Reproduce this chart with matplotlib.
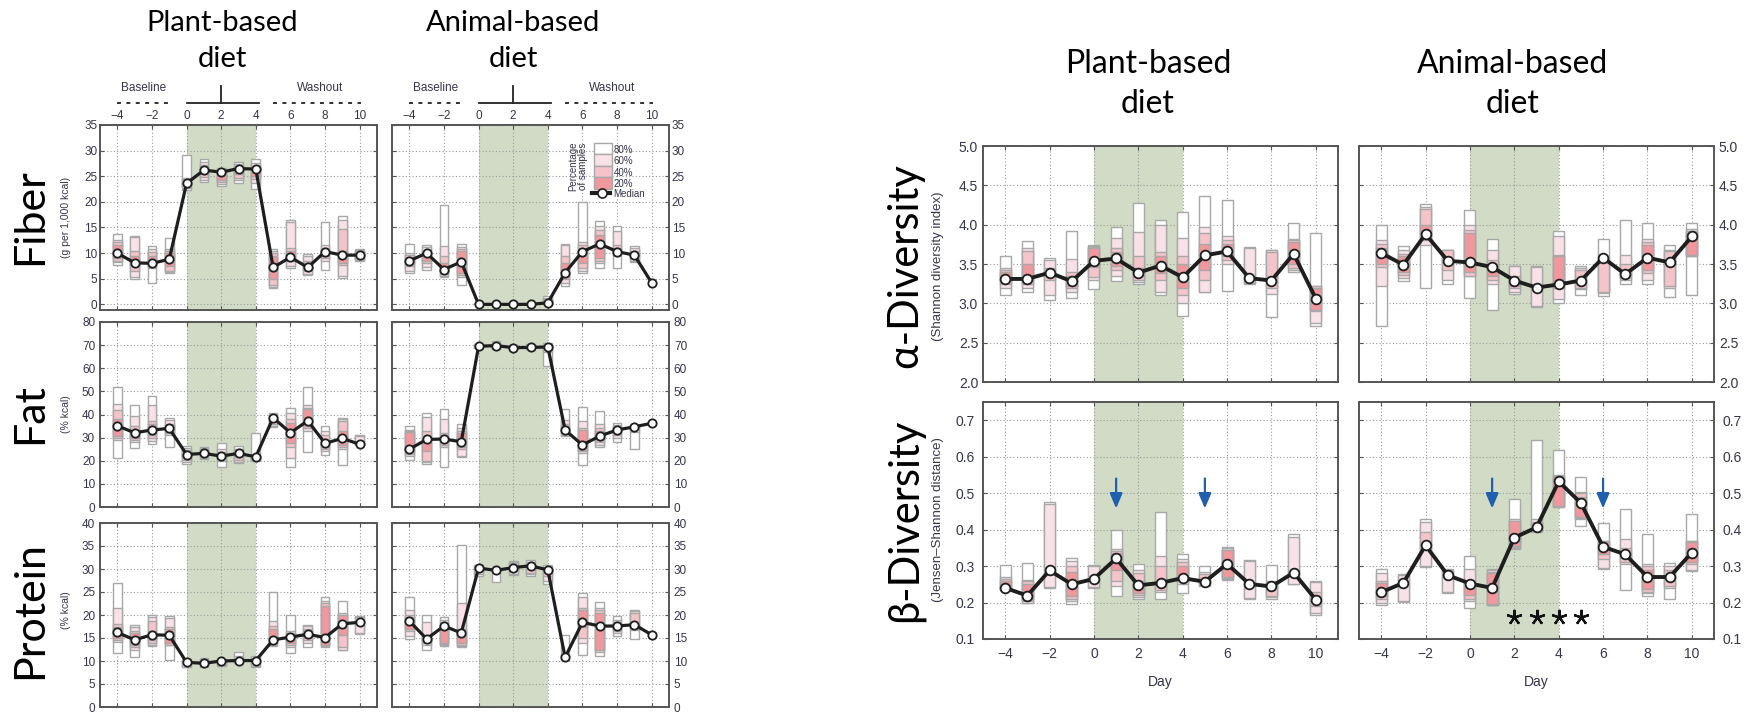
import matplotlib
matplotlib.use("Agg")
import matplotlib.pyplot as plt
from matplotlib.patches import Rectangle
from matplotlib.lines import Line2D
from matplotlib.ticker import FormatStrFormatter, MultipleLocator

plt.rcParams['font.family'] = ['Liberation Sans', 'DejaVu Sans']

W, H = 1746, 713
days = list(range(-4, 11))

# ---------------- data ----------------
fiber_plant_med = [10.0, 8.1, 8.0, 8.8, 23.6, 26.2, 25.8, 26.5, 26.4, 7.2, 9.2, 7.2, 10.3, 9.6, 9.6]
fiber_plant_80 = [(7.7,13.7),(4.9,13.3),(4.1,11.3),(6.2,13.0),(22.4,29.1),(23.9,28.3),(23.1,26.7),(23.7,27.8),(22.6,28.4),(3.1,10.9),(7.0,16.5),(5.7,9.8),(6.8,16.1),(5.1,17.2),(8.5,10.8)]
fiber_plant_60 = [(8.2,12.6),(5.4,13.1),(7.0,10.8),(6.4,10.8),(22.8,24.6),(24.2,27.8),(23.4,26.5),(24.2,27.4),(23.6,27.6),(3.4,10.5),(7.5,16.0),(6.0,9.5),(8.5,11.5),(5.5,16.5),(8.6,10.6)]
fiber_plant_40 = [(8.5,12.2),(6.5,10.5),(7.2,10.3),(6.6,10.4),(23.0,24.4),(24.8,27.2),(23.9,25.9),(24.6,27.0),(24.4,27.0),(3.8,10.0),(8.5,11.0),(6.5,8.5),(9.0,11.0),(7.7,14.7),(8.7,10.4)]
fiber_plant_20 = [(9.0,11.5),(7.5,9.5),(7.5,9.5),(7.5,10.0),(23.3,24.0),(25.5,26.8),(24.2,25.5),(25.5,26.8),(25.0,26.6),(5.0,9.5),(8.8,10.5),(6.8,8.0),(9.5,10.8),(8.0,10.5),(9.0,10.3)]

fiber_animal_med = [8.5, 10.0, 6.8, 8.3, 0.0, 0.0, 0.0, 0.0, 0.3, 6.2, 10.3, 11.8, 10.3, 9.6, 4.2]
fiber_animal_80 = [(6.2,11.8),(6.8,11.6),(5.3,19.3),(3.8,11.8),(0,0.2),(0,0.2),(0,0.2),(0,0.2),(0,1.6),(3.6,11.8),(6.1,19.9),(7.0,16.3),(7.0,15.3),(8.3,11.4),None]
fiber_animal_60 = [(6.5,10.0),(7.2,11.2),(5.6,11.3),(5.3,11.2),None,None,None,None,(0,1.3),(4.2,11.5),(6.5,12.2),(8.0,15.3),(9.5,14.3),(8.5,11.0),None]
fiber_animal_40 = [(7.5,9.6),(8.0,10.5),(6.0,9.5),(5.8,10.9),None,None,None,None,(0,1.0),(5.0,9.5),(7.0,11.5),(8.5,14.5),(10.0,11.5),(9.0,10.5),None]
fiber_animal_20 = [(7.8,9.0),(8.5,10.0),(6.3,8.0),(6.1,10.5),None,None,None,None,(0.1,0.8),(5.5,8.0),(8.0,10.8),(9.0,13.5),(10.1,11.0),(9.2,10.0),None]

fat_plant_med = [35.1, 32.1, 33.3, 34.0, 22.7, 23.2, 22.0, 23.2, 21.7, 38.6, 32.1, 37.3, 27.5, 29.7, 27.1]
fat_plant_80 = [(21.4,52.0),(25.3,44.1),(27.1,48.1),(25.8,38.6),(18.8,26.5),(20.7,26.1),(17.4,27.5),(19.1,26.5),(19.9,31.8),(34.7,40.5),(17.1,42.6),(23.9,51.7),(22.5,35.1),(18.1,38.6),(26.8,31.1)]
fat_plant_60 = [(29.0,44.5),(28.0,39.5),(28.5,44.0),(31.0,37.5),(19.5,25.5),(21.0,25.5),(20.0,25.0),(19.5,25.0),(20.3,22.5),(35.0,40.0),(21.0,40.5),(33.0,44.0),(24.0,33.0),(25.0,38.0),(27.0,30.8)]
fat_plant_40 = [(30.0,42.0),(29.0,35.0),(30.0,37.0),(32.0,36.0),(20.5,24.5),(21.5,25.0),(21.0,24.0),(20.5,24.5),(20.5,22.0),(36.0,39.5),(26.0,38.0),(34.0,43.0),(25.0,31.0),(26.0,37.3),None]
fat_plant_20 = [(30.5,38.0),(30.0,33.0),(31.0,36.0),(32.5,35.5),(21.5,23.5),(22.0,24.0),(21.5,23.0),(21.5,24.0),(21.0,22.0),(37.0,39.0),(27.5,36.2),(35.0,42.5),(26.0,29.0),(27.0,33.0),None]

fat_animal_med = [25.0, 29.2, 29.4, 28.2, 69.5, 69.8, 68.9, 69.0, 69.2, 33.3, 26.8, 30.7, 33.3, 34.7, 36.2]
fat_animal_80 = [(20.3,35.1),(18.8,40.5),(17.1,42.2),(21.7,35.7),(68.6,70.3),(68.3,71.9),(68.2,70.0),(68.2,70.3),(61.0,71.1),(30.7,42.2),(18.1,43.4),(26.1,41.6),(27.9,36.4),(24.9,35.5),None]
fat_animal_60 = [(22.0,33.5),(19.5,39.0),(26.0,38.0),(22.0,34.0),(68.8,70.0),(68.5,71.0),(68.4,69.8),(68.4,70.0),(67.0,70.5),(31.0,37.5),(23.5,37.0),(27.0,36.0),(30.0,35.5),(32.5,35.0),None]
fat_animal_40 = [(23.0,32.8),(20.0,33.0),(27.0,32.0),(25.0,33.0),None,None,None,None,(68.0,70.3),(32.0,36.0),(24.0,34.0),(28.0,34.0),(31.0,34.5),None,None]
fat_animal_20 = [(24.0,32.5),(24.0,30.0),(28.0,31.0),(26.0,32.0),None,None,None,None,(68.5,70.0),(32.5,35.0),(24.6,33.3),(29.0,33.0),(32.0,34.0),None,None]

protein_plant_med = [16.2, 14.6, 15.7, 15.6, 9.7, 9.5, 10.0, 10.1, 10.1, 14.6, 15.2, 15.8, 15.1, 18.1, 18.4]
protein_plant_80 = [(11.7,26.9),(10.9,17.9),(13.2,19.9),(10.3,19.7),(8.6,10.4),(8.8,10.6),(9.0,10.4),(9.5,11.9),(8.8,11.0),(13.3,24.9),(11.7,19.9),(13.0,17.9),(13.0,24.0),(12.4,23.1),(15.9,19.7)]
protein_plant_60 = [(14.2,21.5),(12.5,17.5),(13.5,19.5),(13.5,19.3),(8.8,10.2),(9.0,10.4),(9.2,10.2),(9.6,11.0),(9.0,10.6),(13.5,18.6),(13.0,16.5),(14.0,17.5),(13.2,23.0),(12.5,20.5),(16.0,19.6)]
protein_plant_40 = [(14.5,18.0),(13.0,16.5),(14.0,18.8),(13.5,17.5),None,(9.2,10.2),None,None,None,(14.0,17.5),(13.5,16.0),(14.5,17.0),(13.4,22.7),(13.0,20.0),None]
protein_plant_20 = [(15.0,17.5),(13.5,16.0),(14.5,16.5),(14.0,17.0),None,None,None,None,None,(14.5,17.0),(14.0,15.8),(15.0,16.5),(13.5,22.0),(15.7,20.0),None]

protein_animal_med = [18.7, 14.8, 17.6, 16.1, 30.2, 29.7, 30.3, 30.7, 29.8, 10.8, 18.4, 17.6, 17.6, 17.9, 15.7]
protein_animal_80 = [(14.8,24.0),(12.4,20.0),(13.2,19.5),(13.0,35.2),(28.5,30.9),(27.1,30.2),(28.7,31.8),(28.5,32.0),(26.7,30.9),(10.3,15.7),(11.2,24.7),(11.1,22.9),(15.5,19.7),(14.8,21.1),None]
protein_animal_60 = [(15.5,21.0),(13.5,18.5),(13.5,19.0),(13.2,22.6),(29.0,30.8),None,(29.0,31.5),(29.0,31.5),(27.5,30.5),None,(13.9,24.0),(12.0,21.5),(16.0,19.0),(16.8,20.8),None]
protein_animal_40 = [(16.5,20.0),(14.0,15.5),(13.8,18.0),(13.5,17.0),None,None,(29.5,31.3),(29.2,30.5),(28.5,30.0),None,(15.0,21.5),(12.4,21.1),(16.5,18.5),(17.0,20.5),None]
protein_animal_20 = [(17.0,19.5),(14.2,15.0),(14.0,17.0),(14.0,16.5),None,None,None,None,None,None,(17.5,21.0),(12.5,20.5),(17.0,18.0),None,None]

alpha_plant_med = [3.31,3.31,3.39,3.28,3.54,3.57,3.39,3.48,3.33,3.61,3.66,3.32,3.29,3.63,3.06]
alpha_plant_80 = [(3.11,3.60),(3.15,3.79),(3.04,3.58),(3.07,3.92),(3.18,3.74),(3.29,3.97),(3.25,4.27),(3.11,4.06),(2.84,4.16),(3.15,4.36),(3.16,4.31),(3.25,3.72),(2.83,3.68),(3.40,4.02),(2.71,3.90)]
alpha_plant_60 = [(3.20,3.45),(3.20,3.70),(3.10,3.55),(3.15,3.56),(3.30,3.73),(3.35,3.83),(3.27,3.91),(3.15,4.00),(3.00,3.83),(3.15,3.97),(3.50,3.85),(3.26,3.70),(3.12,3.68),(3.42,3.82),(2.75,3.22)]
alpha_plant_40 = [(3.25,3.43),(3.25,3.67),(3.30,3.45),(3.20,3.40),(3.34,3.72),(3.42,3.70),(3.30,3.60),(3.30,3.65),(3.10,3.60),(3.30,3.90),(3.55,3.80),None,(3.20,3.65),(3.45,3.80),(2.90,3.22)]
alpha_plant_20 = [(3.28,3.40),(3.28,3.50),None,(3.22,3.35),(3.46,3.70),(3.47,3.65),(3.35,3.45),(3.38,3.60),(3.20,3.50),(3.42,3.75),(3.60,3.75),None,None,(3.50,3.78),(2.92,3.20)]

alpha_animal_med = [3.64,3.49,3.88,3.54,3.52,3.46,3.29,3.20,3.24,3.29,3.58,3.37,3.58,3.52,3.85]
alpha_animal_80 = [(2.71,4.00),(3.29,3.73),(3.19,4.26),(3.25,3.68),(3.07,4.19),(2.91,3.82),(3.12,3.48),(2.95,3.48),(3.01,3.92),(3.10,3.48),(3.09,3.82),(3.25,4.06),(3.25,4.02),(3.08,3.74),(3.11,4.02)]
alpha_animal_60 = [(3.22,3.80),(3.32,3.68),(3.74,4.22),(3.30,3.68),(3.35,4.00),(3.25,3.68),(3.15,3.48),(2.96,3.46),(3.05,3.85),(3.18,3.45),(3.13,3.60),(3.30,3.61),(3.30,3.82),(3.19,3.68),(3.60,3.95)]
alpha_animal_40 = [(3.46,3.75),(3.36,3.63),(3.80,4.20),(3.43,3.68),(3.35,3.93),(3.30,3.55),(3.20,3.35),None,(3.20,3.61),(3.20,3.42),(3.15,3.55),(3.32,3.50),(3.38,3.78),(3.22,3.66),(3.60,3.92)]
alpha_animal_20 = [(3.50,3.70),(3.40,3.60),(3.85,4.00),None,(3.40,3.90),(3.35,3.50),(3.22,3.30),None,(3.25,3.60),None,None,None,(3.42,3.74),None,(3.62,3.90)]

beta_plant_med = [0.240,0.219,0.288,0.250,0.265,0.321,0.247,0.254,0.267,0.257,0.306,0.251,0.244,0.282,0.208]
beta_plant_80 = [(0.234,0.302),(0.199,0.309),(0.240,0.476),(0.196,0.323),(0.240,0.302),(0.219,0.399),(0.210,0.306),(0.210,0.449),(0.227,0.334),(0.245,0.300),(0.261,0.353),(0.210,0.317),(0.210,0.302),(0.250,0.389),(0.165,0.259)]
beta_plant_60 = [(0.235,0.270),(0.200,0.263),(0.242,0.470),(0.205,0.315),(0.242,0.300),(0.245,0.346),(0.215,0.290),(0.230,0.329),(0.250,0.320),(0.248,0.285),(0.265,0.350),(0.212,0.315),(0.215,0.260),(0.252,0.380),(0.170,0.255)]
beta_plant_40 = [(0.238,0.265),(0.205,0.260),None,(0.210,0.300),None,(0.260,0.340),(0.220,0.280),(0.235,0.300),(0.260,0.310),(0.250,0.278),(0.268,0.345),None,(0.217,0.256),None,(0.190,0.230)]
beta_plant_20 = [(0.240,0.260),(0.210,0.250),None,(0.217,0.284),None,(0.290,0.337),(0.225,0.260),None,(0.265,0.300),None,(0.270,0.344),None,None,None,None]

beta_animal_med = [0.228,0.254,0.357,0.275,0.252,0.240,0.378,0.406,0.532,0.473,0.353,0.332,0.270,0.270,0.337]
beta_animal_80 = [(0.192,0.293),(0.201,0.279),(0.298,0.428),(0.227,0.291),(0.185,0.329),(0.192,0.291),(0.348,0.485),(0.394,0.647),(0.461,0.617),(0.410,0.543),(0.291,0.419),(0.234,0.456),(0.219,0.389),(0.210,0.309),(0.286,0.442)]
beta_animal_60 = [(0.200,0.280),(0.205,0.275),(0.300,0.420),(0.230,0.290),(0.205,0.291),(0.193,0.288),(0.350,0.430),(0.398,0.430),(0.462,0.550),(0.430,0.502),(0.295,0.370),(0.305,0.375),(0.225,0.305),(0.240,0.300),(0.290,0.370)]
beta_animal_40 = [(0.210,0.258),None,(0.346,0.394),None,(0.210,0.260),(0.194,0.285),(0.352,0.425),(0.400,0.420),(0.464,0.548),(0.432,0.500),(0.320,0.370),(0.310,0.350),(0.230,0.300),(0.245,0.290),(0.305,0.369)]
beta_animal_20 = [(0.217,0.254),None,None,None,(0.220,0.255),(0.195,0.282),(0.355,0.424),None,(0.465,0.545),(0.435,0.490),(0.332,0.365),None,(0.236,0.290),None,(0.311,0.365)]

beta_plant_arrows = [1, 5]
beta_animal_arrows = [1, 6]
beta_animal_stars = [2, 3, 4, 5]

diet_start, diet_end = 0, 4
level_labels = ['80%', '60%', '40%', '20%']

# ---------------- style ----------------
C80, C60, C40, C20 = '#ffffff', '#f8e2e7', '#f5c4ca', '#f1979e'
EDGE = '#a8a8a8'
GREEN = '#d2dbc5'
FRAME = '#555555'
TICKC = '#35354a'
LINEC = '#1e1e1e'

fig = plt.figure(figsize=(W / 100, H / 100), dpi=100)


def rect(x0, y0, x1, y1):
    return [x0 / W, 1 - y1 / H, (x1 - x0) / W, (y1 - y0) / H]


def ftext(x, y, s, **kw):
    fig.text(x / W, 1 - y / H, s, **kw)


def draw_panel(ax, med, levels, ylim, ystep, big):
    ax.axvspan(diet_start, diet_end, color=GREEN, lw=0, zorder=0)
    width = 0.5
    for band, col in zip(levels, [C80, C60, C40, C20]):
        xs, los, hs = [], [], []
        for d, b in zip(days, band):
            if b is None:
                continue
            xs.append(d)
            los.append(b[0])
            hs.append(b[1] - b[0])
        ax.bar(xs, hs, bottom=los, width=width, color=col, edgecolor=EDGE,
               linewidth=1.0, zorder=2)
    ax.plot(days, med, color=LINEC, lw=2.8 if big else 2.3, zorder=4,
            marker='o', ms=7 if big else 6, mfc='white', mec=LINEC, mew=1.3)
    ax.set_xlim(-5, 11)
    ax.set_ylim(*ylim)
    ax.xaxis.set_major_locator(MultipleLocator(2))
    ax.yaxis.set_major_locator(MultipleLocator(ystep))
    ax.grid(True, color='#9a9a9a', linestyle=(0, (1, 2)), lw=0.8, zorder=1)
    ax.set_axisbelow(True)
    for sp in ax.spines.values():
        sp.set_color(FRAME)
        sp.set_linewidth(1.4)
    fs = 10 if big else 8.5
    ax.tick_params(direction='in', length=3, color=FRAME, labelcolor=TICKC,
                   labelsize=fs, top=True, right=True, left=True, bottom=True)


# ---------------- left block ----------------
LX = [(100, 377), (392, 669)]
LY = [(125, 310), (322, 507), (523, 707)]
left_rows = [
    ([fiber_plant_med, fiber_animal_med],
     [[fiber_plant_80, fiber_plant_60, fiber_plant_40, fiber_plant_20],
      [fiber_animal_80, fiber_animal_60, fiber_animal_40, fiber_animal_20]],
     (-1.1, 35), 5),
    ([fat_plant_med, fat_animal_med],
     [[fat_plant_80, fat_plant_60, fat_plant_40, fat_plant_20],
      [fat_animal_80, fat_animal_60, fat_animal_40, fat_animal_20]],
     (0, 80), 10),
    ([protein_plant_med, protein_animal_med],
     [[protein_plant_80, protein_plant_60, protein_plant_40, protein_plant_20],
      [protein_animal_80, protein_animal_60, protein_animal_40, protein_animal_20]],
     (0, 40), 5),
]
left_axes = {}
for r, (meds, levs, yl, ys) in enumerate(left_rows):
    for c in range(2):
        x0, x1 = LX[c]
        y0, y1 = LY[r]
        ax = fig.add_axes(rect(x0, y0, x1, y1))
        draw_panel(ax, meds[c], levs[c], yl, ys, big=False)
        if r == 0:
            ax.tick_params(labeltop=True, labelbottom=False, pad=2)
        else:
            ax.tick_params(labeltop=False, labelbottom=False)
        if c == 0:
            ax.tick_params(labelleft=True, labelright=False)
        else:
            ax.tick_params(labelleft=False, labelright=True)
        left_axes[(r, c)] = ax

# period annotations above fiber panels
for c in range(2):
    ax = left_axes[(0, c)]
    yl = 39.2
    ax.text(-2.5, 41.0, 'Baseline', ha='center', va='bottom', fontsize=8.5,
            color=TICKC, clip_on=False)
    ax.plot([-4, -1], [yl, yl], color='#222', lw=1.3, ls=(0, (2.2, 3)), clip_on=False)
    ax.plot([0, 4.2], [yl, yl], color='#222', lw=1.3, clip_on=False)
    ax.plot([2, 2], [yl, 42.6], color='#222', lw=1.3, clip_on=False)
    ax.text(7.7, 41.0, 'Washout', ha='center', va='bottom', fontsize=8.5,
            color=TICKC, clip_on=False)
    ax.plot([5, 10.1], [yl, yl], color='#222', lw=1.3, ls=(0, (2.2, 3)), clip_on=False)

# legend inside animal fiber panel (pixel positions)
lax = left_axes[(0, 1)]
def to_ax(px, py):
    return ((px - 392) / 277.0, (310 - py) / 185.0)
row_tops = [143, 154.5, 166, 177.5]
row_h = 11.5
for top, col, lab in zip(row_tops, [C80, C60, C40, C20], level_labels):
    xa, ya = to_ax(594, top + row_h)
    wa = 18 / 277.0
    ha_ = row_h / 185.0
    lax.add_patch(Rectangle((xa, ya), wa, ha_, transform=lax.transAxes,
                            facecolor=col, edgecolor=EDGE, lw=1.0, zorder=6))
    tx, ty = to_ax(614, top + row_h / 2 + 1)
    lax.text(tx, ty, lab, transform=lax.transAxes, fontsize=7, color=TICKC,
             va='center', ha='left', zorder=6)
mx0, my = to_ax(592, 193)
mx1, _ = to_ax(610, 193)
lax.add_line(Line2D([mx0, mx1], [my, my], transform=lax.transAxes, color=LINEC,
                    lw=3, zorder=6))
mc, _ = to_ax(602, 193)
lax.add_line(Line2D([mc], [my], transform=lax.transAxes, marker='o', ms=6.5,
                    mfc='white', mec=LINEC, mew=1.2, zorder=7))
tx, ty = to_ax(613, 194)
lax.text(tx, ty, 'Median', transform=lax.transAxes, fontsize=7, color=TICKC,
         va='center', ha='left', zorder=6)
px, py = to_ax(578, 166)
lax.text(px, py, 'Percentage\nof samples', transform=lax.transAxes, fontsize=7,
         color=TICKC, va='center', ha='center', rotation=90, linespacing=0.9,
         zorder=6)

# ---------------- right block ----------------
RX = [(983, 1338), (1359, 1714)]
RY = [(146, 382), (402, 639)]
right_rows = [
    ([alpha_plant_med, alpha_animal_med],
     [[alpha_plant_80, alpha_plant_60, alpha_plant_40, alpha_plant_20],
      [alpha_animal_80, alpha_animal_60, alpha_animal_40, alpha_animal_20]],
     (2.0, 5.0), 0.5),
    ([beta_plant_med, beta_animal_med],
     [[beta_plant_80, beta_plant_60, beta_plant_40, beta_plant_20],
      [beta_animal_80, beta_animal_60, beta_animal_40, beta_animal_20]],
     (0.1, 0.75), 0.1),
]
right_axes = {}
for r, (meds, levs, yl, ys) in enumerate(right_rows):
    for c in range(2):
        x0, x1 = RX[c]
        y0, y1 = RY[r]
        ax = fig.add_axes(rect(x0, y0, x1, y1))
        draw_panel(ax, meds[c], levs[c], yl, ys, big=True)
        ax.yaxis.set_major_formatter(FormatStrFormatter('%.1f'))
        if r == 0:
            ax.tick_params(labelbottom=False, labeltop=False)
        else:
            ax.tick_params(labelbottom=True, labeltop=False, pad=6)
            ax.set_xlabel('Day', fontsize=10, color=TICKC, labelpad=10)
        if c == 0:
            ax.tick_params(labelleft=True, labelright=False)
        else:
            ax.tick_params(labelleft=False, labelright=True)
        right_axes[(r, c)] = ax

ARROW = '#1f5fae'
for c, arrows in enumerate([beta_plant_arrows, beta_animal_arrows]):
    ax = right_axes[(1, c)]
    for d in arrows:
        ax.annotate('', xy=(d, 0.458), xytext=(d, 0.540),
                    arrowprops=dict(arrowstyle='-|>,head_length=0.9,head_width=0.38',
                                    color=ARROW, lw=1.6, shrinkA=0, shrinkB=0),
                    zorder=6)
ax = right_axes[(1, 1)]
ax.plot(beta_animal_stars, [0.16] * len(beta_animal_stars), linestyle='none',
        marker=(5, 2, 0), ms=11, mew=1.6, color='#111', zorder=6)

# ---------------- titles and row labels ----------------
TF = ['Lato', 'DejaVu Sans']
for x in (222, 513):
    ftext(x, 31, 'Plant-based' if x == 222 else 'Animal-based', ha='center',
          va='baseline', fontsize=21, family=TF)
    ftext(x, 67, 'diet', ha='center', va='baseline', fontsize=21, family=TF)
for x, s in ((1148, 'Plant-based'), (1513, 'Animal-based')):
    ftext(x, 73, s, ha='center', va='baseline', fontsize=23, family=TF)
    ftext(x, 113, 'diet', ha='center', va='baseline', fontsize=23, family=TF)

for s, sub, yc in (('Fiber', '(g per 1,000 kcal)', 217),
                   ('Fat', '(% kcal)', 414),
                   ('Protein', '(% kcal)', 610)):
    ftext(30, yc, s, rotation=90, ha='center', va='center', fontsize=31, family=TF)
    ftext(66, yc, sub, rotation=90, ha='center', va='center', fontsize=7.5,
          color=TICKC)

for s, sub, yc in (('α-Diversity', '(Shannon diversity index)', 266),
                   ('β-Diversity', '(Jensen–Shannon distance)', 520)):
    ftext(905, yc, s, rotation=90, ha='center', va='center', fontsize=30, family=TF)
    ftext(938, yc, sub, rotation=90, ha='center', va='center', fontsize=9.5,
          color=TICKC)

fig.savefig('out.png', dpi=100)
